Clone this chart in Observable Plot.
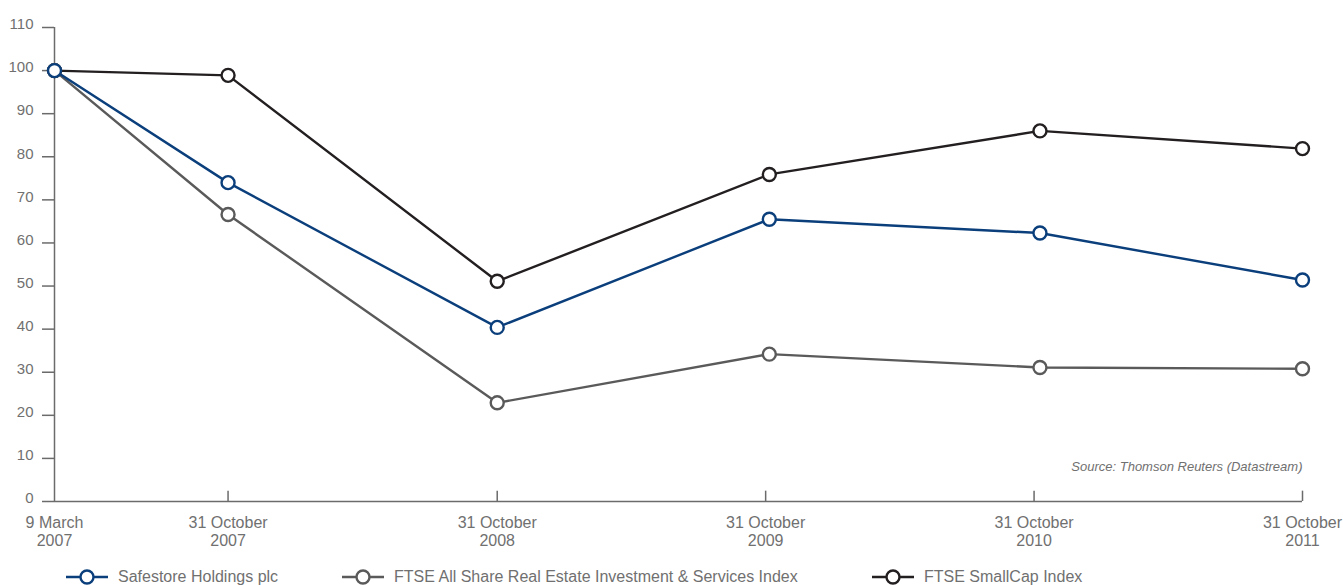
<!DOCTYPE html>
<html>
<head>
<meta charset="utf-8">
<script src="https://cdn.jsdelivr.net/npm/d3@7"></script>
<script src="https://cdn.jsdelivr.net/npm/@observablehq/plot@0.6"></script>
<style>
  html, body { margin: 0; padding: 0; background: #fff; overflow: hidden; }
  body { font-family: "Liberation Sans", Arial, sans-serif; color: #707070; }
  #legend { position: relative; height: 25px; font-size: 16px; top: 4px; }
  .item { position: absolute; top: 0; display: flex; align-items: center; height: 25px; }
  .item svg { margin-right: 10px; }
</style>
</head>
<body>
<div id="chart"></div>
<div id="legend"></div>
<script>
const tickDates = ["2007-03-09", "2007-10-31", "2008-10-31", "2009-10-31", "2010-10-31", "2011-10-31"];
const tickLabels = ["9 March\n2007", "31 October\n2007", "31 October\n2008", "31 October\n2009", "31 October\n2010", "31 October\n2011"];
// point positions as plotted in the source (slightly off the ticks for 2009/2010)
const pointDates = ["2007-03-09", "2007-10-31", "2008-10-31", "2009-11-05", "2010-11-08", "2011-10-31"];
const seriesNames = ["Safestore Holdings plc", "FTSE All Share Real Estate Investment & Services Index", "FTSE SmallCap Index"];
const seriesColors = ["#0b3f7c", "#5a5a5a", "#231f20"];
const safestore = [100, 74.0, 40.4, 65.5, 62.3, 51.4];
const realEstate = [100, 66.6, 22.9, 34.2, 31.1, 30.8];
const smallCap = [100, 98.9, 51.1, 75.9, 86.0, 81.9];
const yTicks = [0, 10, 20, 30, 40, 50, 60, 70, 80, 90, 100, 110];
const sourceText = "Source: Thomson Reuters (Datastream)";

const parse = d3.utcParse("%Y-%m-%d");
const xTicks = tickDates.map(parse);
const xPoints = pointDates.map(parse);
const allSeries = [safestore, realEstate, smallCap];
const drawOrder = [2, 1, 0];
const rows = [];
for (const s of drawOrder) {
  allSeries[s].forEach((v, i) => rows.push({series: seriesNames[s], date: xPoints[i], value: v}));
}
const labelOf = new Map(xTicks.map((d, i) => [+d, tickLabels[i]]));
const first = xTicks[0], last = xTicks[xTicks.length - 1];

const chart = Plot.plot({
  width: 1343,
  height: 560,
  marginLeft: 54,
  marginRight: 41,
  marginTop: 27,
  marginBottom: 59,
  style: {fontFamily: "'Liberation Sans', Arial, sans-serif", fontSize: "15px", color: "#707070", background: "#fff"},
  x: {type: "utc", domain: [first, last]},
  y: {domain: [0, 110]},
  color: {domain: seriesNames, range: seriesColors},
  marks: [
    Plot.ruleX([first], {y1: 0, y2: 110, stroke: "#6b6b6b", strokeWidth: 1.5}),
    Plot.ruleY([0], {x1: first, x2: last, stroke: "#6b6b6b", strokeWidth: 1.5}),
    Plot.axisY({ticks: yTicks, tickSize: 12, label: null, stroke: "#6b6b6b", strokeWidth: 1.5, tickFormat: () => ""}),
    Plot.axisY({ticks: yTicks, tickSize: 0, tickPadding: 21, label: null, fill: "#707070", fontSize: 15, dy: -3}),
    Plot.ruleX(xTicks.slice(1), {y1: 0, y2: 2.4, stroke: "#6b6b6b", strokeWidth: 1.5}),
    Plot.axisX({ticks: xTicks, tickSize: 0, tickPadding: 14, label: null, lineHeight: 1.12, fill: "#707070", fontSize: 16, tickFormat: d => labelOf.get(+d)}),
    Plot.text([sourceText], {x: () => last, y: () => 8.1, text: d => d, textAnchor: "end", fontStyle: "italic", fontSize: 13, fill: "#707070"}),
    Plot.line(rows, {x: "date", y: "value", z: "series", stroke: "series", strokeWidth: 2.4}),
    Plot.dot(rows, {x: "date", y: "value", stroke: "series", fill: "#fff", r: 6.5, strokeWidth: 2.4})
  ]
});
document.getElementById("chart").appendChild(chart);

const legend = document.getElementById("legend");
const lefts = [66, 342, 872];
seriesNames.forEach((name, i) => {
  const item = document.createElement("div");
  item.className = "item";
  item.style.left = lefts[i] + "px";
  item.innerHTML = `<svg width="42" height="18"><line x1="0" y1="9" x2="42" y2="9" stroke="${seriesColors[i]}" stroke-width="2.4"/><circle cx="21" cy="9" r="6.5" fill="#fff" stroke="${seriesColors[i]}" stroke-width="2.4"/></svg><span>${name.replace("&", "&amp;")}</span>`;
  legend.appendChild(item);
});
</script>
</body>
</html>
